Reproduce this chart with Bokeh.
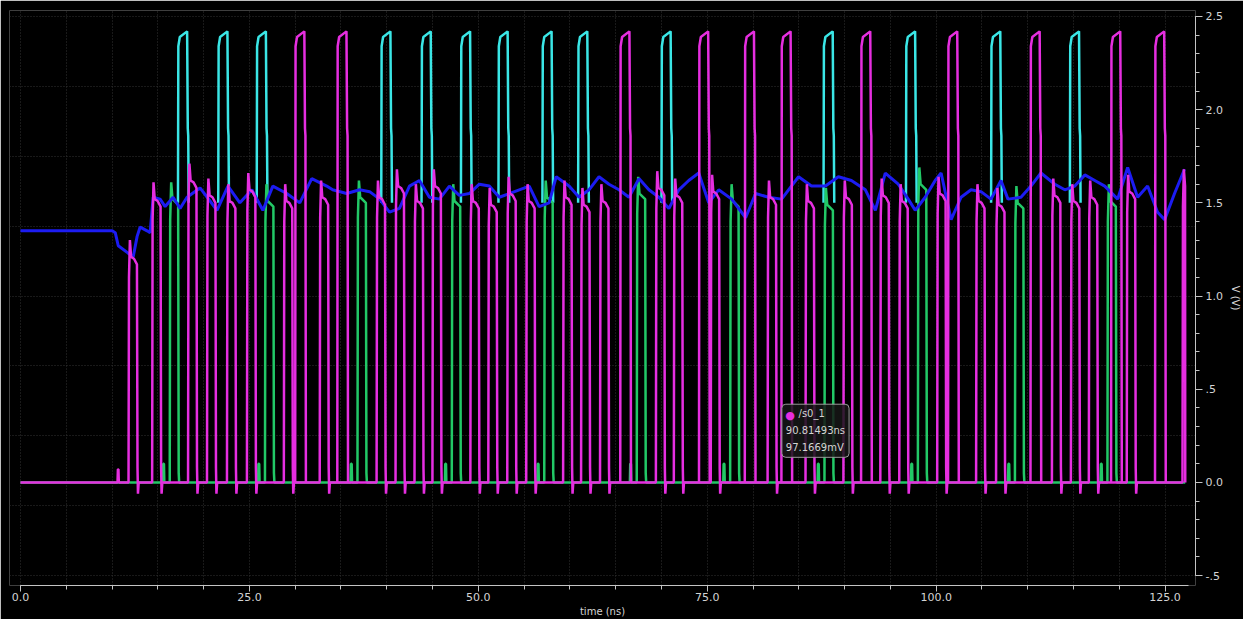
import math
from bokeh.plotting import figure
from bokeh.models import Range1d, FixedTicker, PrintfTickFormatter, Label
from bokeh.embed import file_html
from bokeh.resources import INLINE

# ---------------- data ----------------
END_T = 127.2  # ns, end of simulation trace

# blue analog node (ns, V)
blue_t = [0.0, 10.02, 10.35, 10.68, 11.76, 12.31, 12.74, 13.07, 13.83, 14.16, 14.49, 15.25, 15.80,
          16.67, 17.43, 18.19, 19.61, 20.70, 21.46, 22.66, 23.96, 25.27, 26.47, 27.56, 29.08, 30.50,
          31.81, 33.44, 34.09, 35.62, 37.04, 38.13, 39.22, 40.30, 41.39, 42.48, 43.57, 44.66, 45.75,
          46.84, 47.93, 49.02, 50.11, 51.20, 52.29, 53.38, 54.47, 55.56, 56.64, 57.73, 58.50, 59.91,
          61.00, 62.09, 63.18, 64.27, 65.36, 66.45, 67.54, 68.63, 69.72, 70.81, 71.90, 72.98, 74.07,
          75.16, 76.25, 77.67, 79.19, 80.28, 81.70, 83.12, 84.97, 86.38, 87.91, 89.32, 90.74, 92.27,
          93.36, 94.44, 95.86, 96.95, 97.71, 98.80, 99.89, 100.54, 101.63, 102.72, 103.81, 104.90,
          105.99, 107.08, 107.84, 109.26, 110.35, 111.44, 112.96, 114.05, 115.14, 116.23, 117.32,
          118.41, 119.82, 120.91, 122.00, 123.09, 124.18, 124.95, 126.03, 127.12]
blue_v = [1.35, 1.35, 1.34, 1.27, 1.23, 1.21, 1.32, 1.37, 1.35, 1.34, 1.53, 1.52, 1.48, 1.53, 1.47,
          1.53, 1.58, 1.51, 1.46, 1.59, 1.50, 1.57, 1.46, 1.59, 1.55, 1.50, 1.63, 1.59, 1.57, 1.55,
          1.57, 1.56, 1.52, 1.45, 1.47, 1.59, 1.62, 1.53, 1.52, 1.59, 1.54, 1.55, 1.60, 1.59, 1.53,
          1.55, 1.57, 1.59, 1.48, 1.50, 1.64, 1.59, 1.53, 1.57, 1.64, 1.60, 1.57, 1.53, 1.63, 1.57,
          1.53, 1.47, 1.57, 1.62, 1.66, 1.50, 1.57, 1.52, 1.42, 1.55, 1.53, 1.52, 1.64, 1.59, 1.59,
          1.64, 1.62, 1.57, 1.46, 1.66, 1.60, 1.52, 1.46, 1.53, 1.62, 1.66, 1.41, 1.53, 1.57, 1.56,
          1.52, 1.62, 1.52, 1.53, 1.59, 1.66, 1.60, 1.57, 1.59, 1.65, 1.62, 1.59, 1.52, 1.69, 1.53,
          1.59, 1.45, 1.41, 1.55, 1.68]

# /s0_1 (magenta) ordinary pulses: start time (ns) and overshoot peak (V)
mag_t = [11.8, 14.38, 18.3, 20.37, 22.55, 24.73, 28.76, 32.68, 38.89, 40.96, 43.03, 44.99, 49.13,
         51.09, 53.16, 55.23, 59.26, 61.22, 63.29, 69.39, 71.35, 75.38, 81.59, 85.73, 89.87, 93.9,
         95.97, 100.11, 104.36, 106.54, 112.64, 114.71, 116.67, 120.81, 126.9]
mag_pk = [1.3, 1.61, 1.71, 1.63, 1.6, 1.66, 1.6, 1.62, 1.62, 1.68, 1.6, 1.68, 1.6, 1.58, 1.64, 1.6,
          1.62, 1.58, 1.6, 1.67, 1.63, 1.65, 1.62, 1.6, 1.62, 1.63, 1.6, 1.64, 1.6, 1.58, 1.63, 1.6,
          1.62, 1.65, 1.68]
mag_glitch_t = [10.6]
mag_glitch_v = [0.07]
# /s0_1 tall pulses (to ~2.4 V)
mag_tall_t = [30.0, 34.6, 65.5, 74.1, 79.1, 83.1, 91.8, 101.3, 110.3, 119.1, 123.9]
# cyan tall pulses (from ~1.5 V to ~2.4 V)
cyan_t = [17.2, 21.6, 25.8, 39.4, 43.8, 48.1, 52.2, 57.0, 60.9, 70.0, 87.7, 96.7, 106.0, 114.6]
TALL_V = 2.41
CYAN_BASE_V = 1.5
# green pulses
green_t = [16.3, 26.7, 36.8, 47.1, 57.2, 67.3, 77.5, 87.8, 98.0, 108.6, 118.7]
green_pk = [1.61, 1.6, 1.62, 1.6, 1.62, 1.64, 1.6, 1.58, 1.69, 1.59, 1.6]

# cursor read-out
marker_name = "/s0_1"
marker_t = 90.81493
marker_v = 0.0971669

# axis ticks / titles
x_ticks = [0, 25, 50, 75, 100, 125]
y_ticks = [-0.5, 0.0, 0.5, 1.0, 1.5, 2.0, 2.5]
y_tick_labels = ["-.5", "0.0", ".5", "1.0", "1.5", "2.0", "2.5"]
x_title = "time (ns)"
y_title = "V (V)"

# ---------------- colours ----------------
MAG = "#e62ee0"
CYAN = "#3ae6e6"
GREEN = "#22c866"
BLUE = "#1c1cf2"
AXIS = "#c4c4c4"
TXT = "#d4d4d4"
GRID = "#333333"


# ---------------- pulse shapes (style) ----------------
def low_shape(pk):
    return [(0.0, 0.0), (0.05, pk - 0.2), (0.15, pk), (0.28, pk - 0.09), (0.6, pk - 0.1),
            (0.92, pk - 0.13), (0.98, 0.08), (1.03, -0.06), (1.11, 0.0)]


def glitch_shape(v):
    return [(0.0, 0.0), (0.04, v), (0.1, v), (0.14, 0.0)]


def green_shape(pk):
    return [(-0.75, 0.0), (-0.71, 0.1), (-0.63, 0.1), (-0.59, 0.0),
            (0.0, 0.0), (0.05, pk - 0.2), (0.16, pk), (0.3, pk - 0.09), (0.92, pk - 0.12),
            (0.98, 0.05), (1.03, 0.0)]


def tall_shape(base):
    return [(0.0, base), (0.04, TALL_V - 0.07), (0.2, TALL_V - 0.02), (1.0, TALL_V + 0.01),
            (1.07, 1.9), (1.12, 1.86), (1.17, base)]


def trace(events, base=0.0):
    ts, vs = [0.0], [base]
    for t0, shape in sorted(events, key=lambda e: e[0]):
        for dt, v in shape:
            ts.append(t0 + dt)
            vs.append(v)
    ts.append(END_T)
    vs.append(base)
    keep = [(a, b) for a, b in zip(ts, vs) if a <= END_T]
    return [k[0] for k in keep], [k[1] for k in keep]


def bursts(starts, base):
    ts, vs = [], []
    for t0 in starts:
        for dt, v in tall_shape(base):
            ts.append(t0 + dt)
            vs.append(v)
        ts.append(math.nan)
        vs.append(math.nan)
    return ts, vs


mag_events = [(t, low_shape(pk)) for t, pk in zip(mag_t, mag_pk)]
mag_events += [(t, glitch_shape(v)) for t, v in zip(mag_glitch_t, mag_glitch_v)]
mag_x, mag_y = trace(mag_events)
green_x, green_y = trace([(t, green_shape(pk)) for t, pk in zip(green_t, green_pk)])
tall_x, tall_y = bursts(mag_tall_t, 0.0)
cyan_x, cyan_y = bursts(cyan_t, CYAN_BASE_V)

# ---------------- figure ----------------
X0, X1 = -1.198, 128.32
Y0, Y1 = -0.553, 2.532
p = figure(width=1243, height=619, output_backend="svg", toolbar_location=None,
           x_range=Range1d(X0, X1), y_range=Range1d(Y0, Y1),
           y_axis_location="right",
           background_fill_color="black", border_fill_color="black",
           min_border_left=9, min_border_top=10, min_border_right=45, min_border_bottom=34)
p.outline_line_color = None

# grid
p.xgrid.ticker = FixedTicker(ticks=list(range(0, 130, 5)))
p.ygrid.ticker = FixedTicker(ticks=[-0.5 + 0.375 * i for i in range(9)])
for g in (p.xgrid, p.ygrid):
    g.grid_line_color = GRID
    g.grid_line_dash = "1 2"
    g.grid_line_width = 1

# axes
xa = p.xaxis[0]
ya = p.yaxis[0]
xa.ticker = FixedTicker(ticks=x_ticks, minor_ticks=list(range(0, 130, 5)))
xa.formatter = PrintfTickFormatter(format="%.1f")
xa.bounds = (0, 127.6)
xa.axis_label = x_title
ya.ticker = FixedTicker(ticks=y_ticks, minor_ticks=[round(-0.5 + 0.1 * i, 2) for i in range(31)])
ya.major_label_overrides = {k: v for k, v in zip(y_ticks, y_tick_labels)}
ya.bounds = (-0.5, 2.5)
ya.axis_label = y_title
for ax in (xa, ya):
    ax.axis_line_color = AXIS
    ax.major_tick_line_color = AXIS
    ax.minor_tick_line_color = AXIS
    ax.major_tick_in = 0
    ax.minor_tick_in = 0
    ax.major_label_text_color = TXT
    ax.major_label_text_font = "DejaVu Sans"
    ax.major_label_text_font_size = "11px"
    ax.axis_label_text_color = TXT
    ax.axis_label_text_font = "DejaVu Sans"
    ax.axis_label_text_font_size = "10px"
    ax.axis_label_text_font_style = "normal"
xa.major_tick_out = 6
xa.minor_tick_out = 4
xa.major_label_standoff = 1
xa.axis_label_standoff = 2
ya.major_tick_out = 7
ya.minor_tick_out = 4
ya.major_label_standoff = 3
ya.axis_label_standoff = 4

# traces
p.line(cyan_x, cyan_y, line_color=CYAN, line_width=2.5)
p.line(green_x, green_y, line_color=GREEN, line_width=2.5)
p.line(blue_t, blue_v, line_color=BLUE, line_width=3)
p.line(mag_x, mag_y, line_color=MAG, line_width=2.5)
p.line(tall_x, tall_y, line_color=MAG, line_width=2.5)

# cursor read-out box
NB = "\u00a0"
box = Label(x=marker_t, y=marker_v, x_offset=-3, y_offset=7, anchor="bottom_right",
            text=NB * 4 + marker_name + "\n%.5fns\n%.4fmV" % (marker_t, marker_v * 1000),
            text_font="DejaVu Sans", text_font_size="10px", text_color=TXT, text_align="left",
            text_line_height=1.55, padding=4, border_radius=4,
            background_fill_color="#161616", background_fill_alpha=0.85,
            border_line_color="#9a9a9a", border_line_width=1)
p.add_layout(box)
dot = Label(x=marker_t, y=marker_v, x_offset=-62, y_offset=49, anchor="center", text="●",
            text_align="center", text_baseline="middle",
            text_font="DejaVu Sans", text_font_size="11px", text_color=MAG)
p.add_layout(dot)

open("out.html", "w").write(file_html(p, INLINE))
